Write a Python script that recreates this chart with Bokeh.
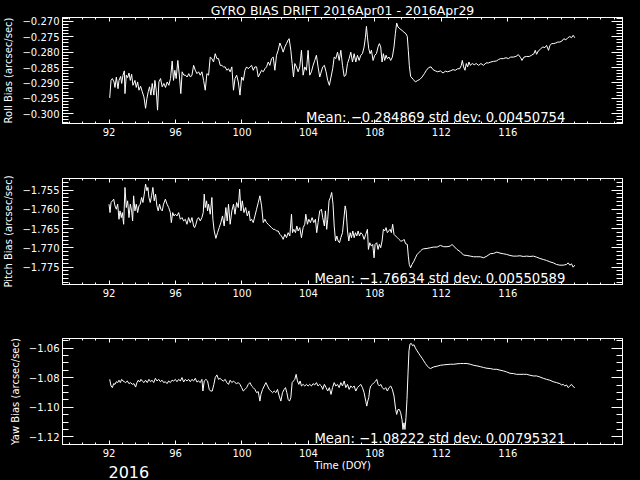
from bokeh.plotting import figure
from bokeh.layouts import column
from bokeh.models import (Range1d, LinearAxis, FixedTicker, SingleIntervalTicker, Label, Title,
                          CustomJSTickFormatter, GlobalInlineStyleSheet)
from bokeh.embed import file_html
from bokeh.resources import INLINE

TITLE = "GYRO BIAS DRIFT 2016Apr01 - 2016Apr29"
X_LABEL = "Time (DOY)"
YEAR = "2016"
X_MAJOR = [92, 96, 100, 104, 108, 112, 116]
X_MINOR = [89.6, 90.4, 91.2, 92.8, 93.6, 94.4, 95.2, 96.8, 97.6, 98.4, 99.2, 100.8, 101.6, 102.4,
           103.2, 104.8, 105.6, 106.4, 107.2, 108.8, 109.6, 110.4, 111.2, 112.8, 113.6, 114.4,
           115.2, 116.8, 117.6, 118.4, 119.2, 120.0, 120.8, 121.6, 122.4]
X_RANGE = (89.2, 122.9)

ROLL_LABEL = "Roll Bias (arcsec/sec)"
PITCH_LABEL = "Pitch Bias (arcsec/sec)"
YAW_LABEL = "Yaw Bias (arcsec/sec)"
ROLL_STATS = "Mean: \u22120.284869 std dev: 0.00450754"
PITCH_STATS = "Mean: \u22121.76634 std dev: 0.00550589"
YAW_STATS = "Mean: \u22121.08222 std dev: 0.00795321"
ROLL_RANGE = (-0.30325, -0.26870)
PITCH_RANGE = (-1.77951, -1.75198)
YAW_RANGE = (-1.12516, -1.05348)

# (day of year, bias)
roll_pts = [
    (92.04, -0.2949), (92.12, -0.2892), (92.20, -0.2886), (92.30, -0.2897), (92.36, -0.2915),
    (92.44, -0.2881), (92.54, -0.2919), (92.60, -0.2892), (92.70, -0.2879), (92.76, -0.2902),
    (92.84, -0.2875), (92.92, -0.2861), (92.96, -0.2935), (93.04, -0.2875), (93.12, -0.2883),
    (93.20, -0.2868), (93.28, -0.2892), (93.36, -0.2872), (93.44, -0.2908), (93.56, -0.2892),
    (93.64, -0.2915), (93.72, -0.2897), (93.80, -0.2924), (93.90, -0.2911), (94.00, -0.2929),
    (94.10, -0.2946), (94.20, -0.2983), (94.28, -0.2951), (94.36, -0.2929), (94.44, -0.2913),
    (94.52, -0.2940), (94.60, -0.2902), (94.70, -0.2940), (94.76, -0.2892), (94.84, -0.2924),
    (94.92, -0.2989), (95.00, -0.2897), (95.10, -0.2886), (95.20, -0.2913), (95.30, -0.2902),
    (95.40, -0.2915), (95.50, -0.2897), (95.60, -0.2908), (95.70, -0.2886), (95.80, -0.2829),
    (95.88, -0.2892), (95.96, -0.2859), (96.04, -0.2886), (96.14, -0.2827), (96.24, -0.2881),
    (96.32, -0.2935), (96.40, -0.2864), (96.50, -0.2875), (96.60, -0.2875), (96.70, -0.2881),
    (96.80, -0.2870), (96.90, -0.2881), (96.99, -0.2875), (97.09, -0.2843), (97.19, -0.2859),
    (97.29, -0.2870), (97.39, -0.2864), (97.49, -0.2875), (97.59, -0.2864), (97.69, -0.2892),
    (97.79, -0.2924), (97.89, -0.2870), (97.99, -0.2875), (98.09, -0.2816), (98.19, -0.2821),
    (98.29, -0.2832), (98.39, -0.2805), (98.49, -0.2821), (98.59, -0.2821), (98.69, -0.2843),
    (98.79, -0.2843), (98.89, -0.2848), (98.99, -0.2848), (99.09, -0.2859), (99.19, -0.2854),
    (99.29, -0.2864), (99.39, -0.2848), (99.49, -0.2924), (99.58, -0.2886), (99.68, -0.2875),
    (99.78, -0.2897), (99.88, -0.2940), (99.98, -0.2881), (100.08, -0.2892), (100.18, -0.2859),
    (100.28, -0.2848), (100.38, -0.2854), (100.48, -0.2848), (100.58, -0.2843), (100.68, -0.2859),
    (100.78, -0.2848), (100.88, -0.2848), (100.98, -0.2881), (101.08, -0.2870), (101.18, -0.2859),
    (101.28, -0.2864), (101.38, -0.2854), (101.48, -0.2848), (101.58, -0.2832), (101.68, -0.2843),
    (101.78, -0.2821), (101.88, -0.2816), (101.98, -0.2859), (102.08, -0.2810), (102.18, -0.2794),
    (102.28, -0.2770), (102.38, -0.2783), (102.48, -0.2800), (102.58, -0.2783), (102.68, -0.2772),
    (102.78, -0.2760), (102.84, -0.2756), (102.94, -0.2794), (103.02, -0.2837), (103.10, -0.2881),
    (103.18, -0.2837), (103.28, -0.2848), (103.38, -0.2864), (103.48, -0.2848), (103.58, -0.2794),
    (103.68, -0.2875), (103.78, -0.2848), (103.88, -0.2859), (103.98, -0.2794), (104.08, -0.2875),
    (104.18, -0.2864), (104.28, -0.2843), (104.38, -0.2827), (104.48, -0.2810), (104.58, -0.2848),
    (104.68, -0.2881), (104.86, -0.2848), (104.96, -0.2843), (105.06, -0.2864), (105.16, -0.2892),
    (105.26, -0.2908), (105.36, -0.2881), (105.46, -0.2854), (105.55, -0.2816), (105.65, -0.2821),
    (105.75, -0.2800), (105.85, -0.2827), (105.95, -0.2794), (106.05, -0.2843), (106.15, -0.2879),
    (106.25, -0.2875), (106.35, -0.2837), (106.45, -0.2821), (106.55, -0.2800), (106.65, -0.2832),
    (106.75, -0.2805), (106.85, -0.2832), (106.95, -0.2810), (107.05, -0.2827), (107.15, -0.2810),
    (107.25, -0.2805), (107.35, -0.2783), (107.43, -0.2751), (107.49, -0.2716), (107.55, -0.2751),
    (107.63, -0.2789), (107.71, -0.2805), (107.79, -0.2794), (107.89, -0.2827), (107.99, -0.2810),
    (108.09, -0.2805), (108.19, -0.2783), (108.27, -0.2772), (108.35, -0.2783), (108.43, -0.2832),
    (108.51, -0.2805), (108.59, -0.2827), (108.67, -0.2810), (108.75, -0.2821), (108.85, -0.2816),
    (108.95, -0.2827), (109.05, -0.2816), (109.15, -0.2783), (109.23, -0.2740), (109.31, -0.2705),
    (109.39, -0.2718), (109.51, -0.2724), (109.63, -0.2729), (109.75, -0.2735), (109.87, -0.2740),
    (109.95, -0.2749), (110.01, -0.2794), (110.07, -0.2843), (110.15, -0.2879), (110.31, -0.2889),
    (110.44, -0.2897), (110.58, -0.2892), (110.70, -0.2889), (110.84, -0.2881), (110.98, -0.2870),
    (111.10, -0.2859), (111.24, -0.2850), (111.38, -0.2848), (111.50, -0.2857), (111.64, -0.2861),
    (111.78, -0.2864), (111.94, -0.2861), (112.10, -0.2868), (112.24, -0.2862), (112.38, -0.2864),
    (112.54, -0.2861), (112.70, -0.2857), (112.84, -0.2859), (112.98, -0.2854), (113.10, -0.2854),
    (113.20, -0.2843), (113.26, -0.2827), (113.34, -0.2848), (113.42, -0.2859), (113.50, -0.2837),
    (113.58, -0.2848), (113.66, -0.2832), (113.74, -0.2843), (113.86, -0.2837), (113.98, -0.2841),
    (114.10, -0.2837), (114.24, -0.2843), (114.38, -0.2837), (114.54, -0.2843), (114.68, -0.2835),
    (114.84, -0.2835), (114.98, -0.2832), (115.14, -0.2830), (115.30, -0.2829), (115.44, -0.2824),
    (115.57, -0.2821), (115.73, -0.2821), (115.89, -0.2818), (116.03, -0.2821), (116.17, -0.2816),
    (116.33, -0.2816), (116.49, -0.2814), (116.63, -0.2808), (116.77, -0.2818), (116.85, -0.2827),
    (116.97, -0.2816), (117.13, -0.2814), (117.29, -0.2814), (117.43, -0.2810), (117.57, -0.2805),
    (117.65, -0.2794), (117.73, -0.2807), (117.83, -0.2796), (117.93, -0.2792), (118.09, -0.2783),
    (118.23, -0.2785), (118.33, -0.2778), (118.45, -0.2794), (118.53, -0.2778), (118.65, -0.2772),
    (118.77, -0.2772), (118.89, -0.2770), (119.01, -0.2767), (119.13, -0.2767), (119.25, -0.2764),
    (119.37, -0.2756), (119.49, -0.2760), (119.61, -0.2753), (119.73, -0.2749), (119.83, -0.2753),
    (119.93, -0.2745), (120.03, -0.2753),
]

pitch_pts = [
    (92.00, -1.75865), (92.06, -1.76083), (92.12, -1.75822), (92.20, -1.75778), (92.28, -1.75735),
    (92.36, -1.75909), (92.44, -1.75996), (92.52, -1.75865), (92.60, -1.76257), (92.66, -1.76039),
    (92.74, -1.76213), (92.80, -1.76083), (92.88, -1.76387), (92.96, -1.75430), (93.04, -1.75952),
    (93.12, -1.75778), (93.20, -1.76213), (93.28, -1.75865), (93.36, -1.76039), (93.42, -1.76300),
    (93.48, -1.75648), (93.56, -1.76039), (93.64, -1.75865), (93.72, -1.76083), (93.80, -1.75909),
    (93.88, -1.75865), (93.96, -1.75691), (94.04, -1.75822), (94.12, -1.75604), (94.20, -1.75343),
    (94.28, -1.75517), (94.34, -1.75430), (94.40, -1.75691), (94.48, -1.75822), (94.56, -1.75648),
    (94.64, -1.75430), (94.72, -1.75778), (94.80, -1.75604), (94.88, -1.75909), (94.96, -1.76039),
    (95.04, -1.75865), (95.12, -1.75996), (95.20, -1.76039), (95.28, -1.75865), (95.39, -1.75735),
    (95.49, -1.75865), (95.59, -1.75952), (95.69, -1.76083), (95.75, -1.76344), (95.83, -1.76083),
    (95.91, -1.76170), (95.99, -1.76126), (96.09, -1.76170), (96.19, -1.76083), (96.29, -1.76257),
    (96.39, -1.76213), (96.49, -1.76300), (96.59, -1.76257), (96.69, -1.76387), (96.79, -1.76213),
    (96.89, -1.76344), (96.99, -1.76213), (97.09, -1.76431), (97.15, -1.76474), (97.23, -1.76387),
    (97.31, -1.76257), (97.39, -1.76213), (97.49, -1.76300), (97.59, -1.76213), (97.67, -1.76083),
    (97.73, -1.75604), (97.79, -1.75952), (97.87, -1.75778), (97.93, -1.76039), (97.99, -1.75865),
    (98.09, -1.76126), (98.19, -1.75691), (98.25, -1.76257), (98.33, -1.76561), (98.43, -1.76753),
    (98.53, -1.76605), (98.63, -1.76474), (98.73, -1.76344), (98.83, -1.76170), (98.93, -1.76431),
    (99.03, -1.75952), (99.11, -1.76300), (99.19, -1.75865), (99.29, -1.76387), (99.39, -1.76039),
    (99.49, -1.75865), (99.58, -1.76126), (99.68, -1.75822), (99.78, -1.75952), (99.86, -1.75474),
    (99.94, -1.76039), (100.02, -1.75778), (100.12, -1.76083), (100.22, -1.75952), (100.32, -1.76170),
    (100.42, -1.76039), (100.50, -1.76300), (100.58, -1.76257), (100.68, -1.76344), (100.78, -1.76170),
    (100.88, -1.75996), (100.98, -1.75822), (101.08, -1.75648), (101.18, -1.75909), (101.28, -1.76344),
    (101.38, -1.76257), (101.48, -1.76344), (101.58, -1.76387), (101.68, -1.76431), (101.78, -1.76474),
    (101.88, -1.76518), (101.98, -1.76518), (102.08, -1.76561), (102.18, -1.76561), (102.28, -1.76648),
    (102.38, -1.76692), (102.48, -1.76779), (102.58, -1.76648), (102.68, -1.76735), (102.78, -1.76605),
    (102.88, -1.76692), (102.98, -1.76126), (103.04, -1.76605), (103.12, -1.76518), (103.22, -1.76605),
    (103.30, -1.76431), (103.38, -1.76561), (103.48, -1.76474), (103.58, -1.76735), (103.68, -1.76474),
    (103.78, -1.76387), (103.84, -1.76126), (103.94, -1.76387), (104.02, -1.76257), (104.12, -1.76344),
    (104.22, -1.76213), (104.32, -1.76344), (104.42, -1.76257), (104.50, -1.76605), (104.58, -1.76344),
    (104.68, -1.76039), (104.78, -1.75996), (104.86, -1.76213), (104.96, -1.76431), (105.02, -1.76039),
    (105.10, -1.76518), (105.16, -1.76257), (105.24, -1.75778), (105.32, -1.75691), (105.40, -1.75561),
    (105.48, -1.75865), (105.55, -1.76431), (105.63, -1.76822), (105.71, -1.76692), (105.79, -1.76822),
    (105.87, -1.76866), (105.95, -1.76735), (106.05, -1.76605), (106.15, -1.76170), (106.21, -1.75909),
    (106.27, -1.76039), (106.35, -1.76561), (106.43, -1.76822), (106.51, -1.76605), (106.59, -1.76735),
    (106.67, -1.76561), (106.75, -1.76735), (106.83, -1.76605), (106.91, -1.76692), (106.99, -1.76561),
    (107.07, -1.76692), (107.15, -1.76605), (107.25, -1.76648), (107.35, -1.76779), (107.45, -1.76648),
    (107.55, -1.76518), (107.61, -1.77040), (107.69, -1.76866), (107.79, -1.76953), (107.87, -1.76909),
    (107.95, -1.77257), (108.01, -1.76909), (108.11, -1.76866), (108.19, -1.77040), (108.27, -1.76909),
    (108.35, -1.76996), (108.43, -1.76822), (108.51, -1.76518), (108.59, -1.76561), (108.67, -1.76474),
    (108.75, -1.76605), (108.83, -1.76561), (108.91, -1.76518), (108.99, -1.76605), (109.07, -1.76387),
    (109.15, -1.76648), (109.25, -1.76692), (109.35, -1.76735), (109.45, -1.76779), (109.55, -1.76822),
    (109.65, -1.76822), (109.75, -1.76779), (109.85, -1.76892), (109.95, -1.76909), (110.01, -1.77214),
    (110.07, -1.77431), (110.15, -1.77518), (110.23, -1.77431), (110.35, -1.77344), (110.44, -1.77257),
    (110.54, -1.77170), (110.64, -1.77127), (110.74, -1.77083), (110.84, -1.77040), (110.94, -1.77023),
    (111.14, -1.77014), (111.34, -1.76996), (111.54, -1.76979), (111.74, -1.76979), (111.94, -1.76936),
    (112.14, -1.76970), (112.34, -1.76970), (112.54, -1.76953), (112.64, -1.76909), (112.74, -1.76953),
    (112.94, -1.77040), (113.14, -1.77101), (113.34, -1.77188), (113.54, -1.77197), (113.74, -1.77214),
    (113.94, -1.77231), (114.14, -1.77231), (114.34, -1.77231), (114.54, -1.77257), (114.74, -1.77214),
    (114.94, -1.77153), (115.14, -1.77144), (115.34, -1.77110), (115.53, -1.77136), (115.73, -1.77153),
    (115.93, -1.77170), (116.13, -1.77197), (116.33, -1.77214), (116.53, -1.77214), (116.73, -1.77205),
    (116.93, -1.77223), (117.13, -1.77214), (117.33, -1.77223), (117.53, -1.77214), (117.73, -1.77240),
    (117.93, -1.77275), (118.13, -1.77301), (118.33, -1.77327), (118.53, -1.77362), (118.73, -1.77388),
    (118.93, -1.77431), (119.13, -1.77449), (119.33, -1.77449), (119.53, -1.77431), (119.63, -1.77388),
    (119.73, -1.77449), (119.83, -1.77414), (119.93, -1.77501), (120.03, -1.77449),
]

yaw_pts = [
    (92.04, -1.0811), (92.12, -1.0856), (92.20, -1.0867), (92.28, -1.0840), (92.36, -1.0845),
    (92.44, -1.0827), (92.52, -1.0833), (92.60, -1.0817), (92.68, -1.0833), (92.76, -1.0811),
    (92.84, -1.0822), (92.92, -1.0827), (93.00, -1.0833), (93.10, -1.0822), (93.20, -1.0840),
    (93.30, -1.0833), (93.40, -1.0845), (93.50, -1.0840), (93.60, -1.0863), (93.68, -1.0833),
    (93.76, -1.0817), (93.84, -1.0829), (93.92, -1.0811), (94.00, -1.0822), (94.10, -1.0833),
    (94.20, -1.0817), (94.30, -1.0833), (94.40, -1.0811), (94.50, -1.0827), (94.59, -1.0817),
    (94.69, -1.0833), (94.79, -1.0804), (94.89, -1.0822), (94.99, -1.0811), (95.09, -1.0827),
    (95.19, -1.0817), (95.29, -1.0833), (95.39, -1.0827), (95.49, -1.0840), (95.59, -1.0822),
    (95.69, -1.0833), (95.79, -1.0817), (95.89, -1.0822), (95.99, -1.0811), (96.09, -1.0827),
    (96.19, -1.0811), (96.29, -1.0822), (96.39, -1.0799), (96.49, -1.0829), (96.59, -1.0811),
    (96.69, -1.0822), (96.79, -1.0811), (96.89, -1.0827), (96.99, -1.0811), (97.09, -1.0822),
    (97.19, -1.0804), (97.29, -1.0829), (97.39, -1.0822), (97.49, -1.0833), (97.59, -1.0811),
    (97.65, -1.0890), (97.73, -1.0822), (97.83, -1.0811), (97.93, -1.0822), (98.03, -1.0879),
    (98.11, -1.0890), (98.21, -1.0890), (98.31, -1.0845), (98.39, -1.0799), (98.49, -1.0781),
    (98.59, -1.0811), (98.69, -1.0804), (98.79, -1.0817), (98.89, -1.0822), (98.99, -1.0811),
    (99.09, -1.0833), (99.19, -1.0845), (99.29, -1.0817), (99.39, -1.0833), (99.49, -1.0822),
    (99.58, -1.0833), (99.68, -1.0840), (99.78, -1.0833), (99.88, -1.0845), (99.98, -1.0867),
    (100.08, -1.0890), (100.18, -1.0879), (100.28, -1.0867), (100.38, -1.0845), (100.48, -1.0833),
    (100.58, -1.0856), (100.68, -1.0867), (100.78, -1.0879), (100.88, -1.0901), (100.98, -1.0894),
    (101.08, -1.0958), (101.14, -1.0913), (101.24, -1.0879), (101.34, -1.0856), (101.44, -1.0833),
    (101.54, -1.0856), (101.64, -1.0879), (101.74, -1.0890), (101.84, -1.0901), (101.94, -1.0890),
    (102.04, -1.0901), (102.14, -1.0879), (102.24, -1.0924), (102.34, -1.0958), (102.44, -1.0901),
    (102.54, -1.0879), (102.62, -1.0867), (102.70, -1.0901), (102.78, -1.0947), (102.86, -1.0958),
    (102.94, -1.0935), (103.02, -1.0833), (103.10, -1.0822), (103.18, -1.0811), (103.26, -1.0777),
    (103.34, -1.0822), (103.42, -1.0845), (103.50, -1.0822), (103.58, -1.0856), (103.68, -1.0845),
    (103.78, -1.0856), (103.88, -1.0845), (103.98, -1.0856), (104.08, -1.0845), (104.18, -1.0856),
    (104.28, -1.0840), (104.38, -1.0849), (104.48, -1.0833), (104.58, -1.0856), (104.68, -1.0845),
    (104.78, -1.0856), (104.86, -1.0879), (104.96, -1.0845), (105.06, -1.0867), (105.16, -1.0890),
    (105.26, -1.0867), (105.36, -1.0913), (105.45, -1.0867), (105.55, -1.0833), (105.65, -1.0856),
    (105.75, -1.0845), (105.85, -1.0867), (105.95, -1.0833), (106.05, -1.0856), (106.15, -1.0822),
    (106.25, -1.0867), (106.35, -1.0845), (106.45, -1.0879), (106.55, -1.0856), (106.65, -1.0867),
    (106.75, -1.0856), (106.85, -1.0890), (106.95, -1.0867), (107.05, -1.0856), (107.15, -1.0845),
    (107.25, -1.0867), (107.35, -1.0901), (107.45, -1.0958), (107.51, -1.0992), (107.57, -1.0958),
    (107.63, -1.0935), (107.69, -1.0879), (107.75, -1.0856), (107.85, -1.0845), (107.95, -1.0833),
    (108.05, -1.0822), (108.11, -1.0811), (108.19, -1.0845), (108.27, -1.0856), (108.35, -1.0845),
    (108.45, -1.0867), (108.55, -1.0879), (108.65, -1.0867), (108.75, -1.0890), (108.85, -1.0867),
    (108.95, -1.0856), (109.05, -1.0879), (109.15, -1.0924), (109.25, -1.1015), (109.31, -1.1048),
    (109.39, -1.1015), (109.47, -1.1015), (109.55, -1.1037), (109.63, -1.1082), (109.69, -1.1150),
    (109.75, -1.1105), (109.81, -1.1150), (109.87, -1.1071), (109.93, -1.0947), (109.99, -1.0777),
    (110.05, -1.0618), (110.11, -1.0573), (110.19, -1.0568), (110.27, -1.0584), (110.35, -1.0577),
    (110.44, -1.0600), (110.54, -1.0618), (110.64, -1.0636), (110.74, -1.0652), (110.84, -1.0668),
    (110.94, -1.0686), (111.04, -1.0704), (111.14, -1.0720), (111.24, -1.0731), (111.34, -1.0738),
    (111.54, -1.0727), (111.74, -1.0722), (111.94, -1.0716), (112.14, -1.0713), (112.34, -1.0711),
    (112.54, -1.0709), (112.74, -1.0709), (112.94, -1.0706), (113.14, -1.0704), (113.34, -1.0704),
    (113.54, -1.0704), (113.74, -1.0709), (113.94, -1.0716), (114.14, -1.0720), (114.34, -1.0725),
    (114.54, -1.0731), (114.74, -1.0736), (114.94, -1.0738), (115.14, -1.0743), (115.34, -1.0743),
    (115.53, -1.0749), (115.73, -1.0754), (115.93, -1.0761), (116.13, -1.0770), (116.33, -1.0772),
    (116.53, -1.0777), (116.73, -1.0777), (116.93, -1.0777), (117.13, -1.0777), (117.33, -1.0783),
    (117.53, -1.0788), (117.73, -1.0788), (117.93, -1.0795), (118.13, -1.0804), (118.33, -1.0811),
    (118.53, -1.0817), (118.73, -1.0827), (118.93, -1.0833), (119.13, -1.0840), (119.23, -1.0849),
    (119.33, -1.0845), (119.43, -1.0856), (119.53, -1.0849), (119.63, -1.0867), (119.73, -1.0856),
    (119.83, -1.0845), (119.93, -1.0860), (120.03, -1.0867),
]

FONT = "DejaVu Sans"
FG = "white"
BG = "black"
W = 640
LEFT, RIGHT = 61, 18
FRAME_H = 106


def yfrac(rng, px):
    """data value lying px pixels above the bottom of the frame"""
    return rng[0] + (rng[1] - rng[0]) * px / FRAME_H


def style_axis(ax, major_in, minor_in):
    ax.axis_line_color = FG
    ax.major_tick_line_color = FG
    ax.minor_tick_line_color = FG
    ax.major_tick_in = major_in
    ax.major_tick_out = 0
    ax.minor_tick_in = minor_in
    ax.minor_tick_out = 0
    ax.major_label_text_color = FG
    ax.major_label_text_font = FONT
    ax.major_label_text_font_size = "10px"
    ax.axis_label_text_color = FG
    ax.axis_label_text_font = FONT
    ax.axis_label_text_font_size = "10px"
    ax.axis_label_text_font_style = "normal"


def panel(pts, yrng, interval, nminor, digits, ylabel, stats, top, bottom, title=None):
    kw = {}
    if title is not None:
        kw["title"] = Title(text=title, align="center", text_color=FG, text_font=FONT,
                            text_font_size="12.5px", text_font_style="normal",
                            standoff=0, vertical_align="bottom")
    p = figure(width=W, height=160, x_range=Range1d(*X_RANGE), y_range=Range1d(*yrng),
               output_backend="svg", toolbar_location=None,
               min_border_left=LEFT, min_border_right=RIGHT,
               min_border_top=top, min_border_bottom=bottom,
               background_fill_color=BG, border_fill_color=BG, outline_line_color=FG, **kw)
    p.grid.visible = False
    xt = FixedTicker(ticks=X_MAJOR, minor_ticks=X_MINOR)
    yt = SingleIntervalTicker(interval=interval, num_minor_ticks=nminor)
    yfmt = CustomJSTickFormatter(
        code="return (tick < 0 ? '\\u2212' : '') + Math.abs(tick).toFixed(%d);" % digits)
    blank = CustomJSTickFormatter(code="return '';")

    p.xaxis.ticker = xt
    p.yaxis.ticker = yt
    p.yaxis.formatter = yfmt
    p.yaxis.axis_label = ylabel
    p.yaxis.axis_label_standoff = 5
    p.yaxis.major_label_standoff = 3
    p.xaxis.major_label_standoff = 4

    top_ax = LinearAxis(ticker=xt, formatter=blank, major_label_standoff=0)
    right_ax = LinearAxis(ticker=yt, formatter=blank, major_label_standoff=0)
    p.add_layout(top_ax, "above")
    p.add_layout(right_ax, "right")

    for ax in p.xaxis:
        style_axis(ax, 4, 2)
    for ax in p.yaxis:
        style_axis(ax, 11, 6)
    top_ax.major_label_text_font_size = "0px"
    right_ax.major_label_text_font_size = "0px"

    xs = [t for t, _ in pts]
    ys = [v for _, v in pts]
    p.line(xs, ys, line_color=FG, line_width=1)

    p.add_layout(Label(x=119.46, y=yfrac(yrng, 6.5), text=stats, text_color=FG,
                       text_font=FONT, text_font_size="13.2px", text_align="right",
                       text_baseline="alphabetic"))
    return p


p1 = panel(roll_pts, ROLL_RANGE, 0.005, 5, 3, ROLL_LABEL, ROLL_STATS, 17, 37, title=TITLE)
p2 = panel(pitch_pts, PITCH_RANGE, 0.005, 5, 3, PITCH_LABEL, PITCH_STATS, 18, 36)
p3 = panel(yaw_pts, YAW_RANGE, 0.02, 4, 2, YAW_LABEL, YAW_STATS, 18, 36)

p3.below[0].axis_label = X_LABEL
p3.below[0].axis_label_standoff = 0
p3.add_layout(Title(text=YEAR, align="left", offset=46, standoff=-16, vertical_align="top",
                    text_color=FG, text_font=FONT, text_font_size="16px",
                    text_font_style="normal"), "below")

page_css = GlobalInlineStyleSheet(css="html, body { background-color: #000000; }")
layout = column(p1, p2, p3, spacing=0, stylesheets=[page_css])

with open("out.html", "w", encoding="utf-8") as f:
    f.write(file_html(layout, INLINE, title="Gyro bias drift"))
